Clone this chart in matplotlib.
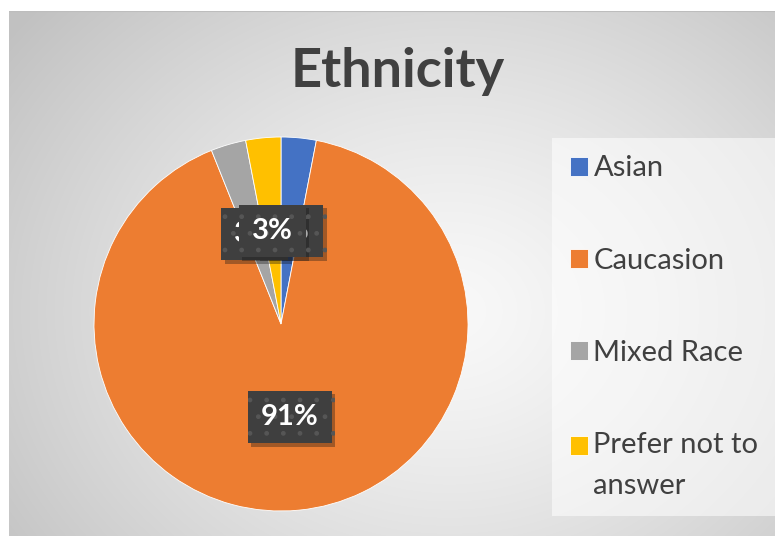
import numpy as np
import matplotlib
matplotlib.use("Agg")
import matplotlib.pyplot as plt
from matplotlib import patheffects

plt.rcParams["font.family"] = ["Lato", "DejaVu Sans"]

# survey responses (counts)
categories = ["Asian", "Caucasion", "Mixed Race", "Prefer not to\nanswer"]
counts = [1, 30, 1, 1]
colors = ["#4472C4", "#ED7D31", "#A5A5A5", "#FFC000"]
title = "Ethnicity"

W, H = 775, 536
fig = plt.figure(figsize=(W / 100, H / 100), dpi=100)
fig.patch.set_facecolor("white")

# radial gradient background of the chart area
bg = fig.add_axes([9 / W, 0, 766 / W, 525 / H])
bg.set_axis_off()
yy, xx = np.mgrid[0:525, 0:766]
dist = np.hypot((xx - 440) / 520, (yy - 300) / 430)
shade = np.clip(0.975 - 0.2 * dist ** 1.3, 0.76, 0.98)
bg.imshow(np.dstack([shade] * 3), aspect="auto", extent=(0, 1, 0, 1))
bg.axhline(1, color="#bdbdbd", lw=1.5)

# pie
ax = fig.add_axes([(281 - 187) / W, (H - 511) / H, 374 / W, 374 / H])
wedges, _, autotexts = ax.pie(
    counts, colors=colors, startangle=90, counterclock=False,
    autopct=lambda p: f"{p:.0f}%", pctdistance=0.5, radius=1,
    wedgeprops=dict(linewidth=0.6, edgecolor="white"),
    textprops=dict(color="white", fontsize=21, fontweight="bold"),
)
ax.set_xlim(-1, 1)
ax.set_ylim(-1, 1)
for t in autotexts:
    t.set_bbox(dict(boxstyle="square,pad=0.45", facecolor="#3f3f3f",
                    edgecolor="#565656", linewidth=0, hatch="."))
    t.get_bbox_patch().set_path_effects([
        patheffects.SimplePatchShadow(offset=(2.5, -2.5), alpha=0.35),
        patheffects.Normal()])

fig.text(398 / W, 1 - 71 / H, title, ha="center", va="center",
         fontsize=39, fontweight="bold", color="#404040")

leg = fig.legend(wedges, categories, loc="upper left",
                 bbox_to_anchor=(552 / W, 1 - 138 / H), fontsize=21,
                 frameon=True, fancybox=False, labelcolor="#404040",
                 handlelength=0.62, handleheight=0.62, handletextpad=0.2,
                 labelspacing=2.27, borderpad=0.6, borderaxespad=0)
leg.get_frame().set_facecolor("white")
leg.get_frame().set_alpha(0.55)
leg.get_frame().set_linewidth(0)
for t in leg.get_texts():
    t.set_linespacing(1.7)
# wrapped entry: keep its marker level with the first line, as in Excel
last = leg.legend_handles[-1]
last.set_y(last.get_y() + 14.5)

fig.savefig("out.png", dpi=100)
